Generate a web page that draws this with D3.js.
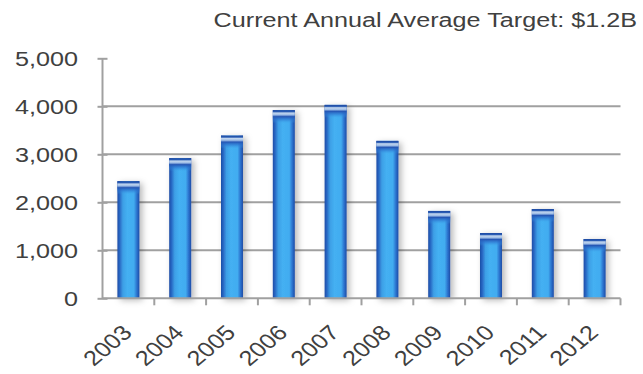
<!DOCTYPE html>
<html>
<head>
<meta charset="utf-8">
<script src="https://cdn.jsdelivr.net/npm/d3@7/dist/d3.min.js"></script>
<style>
  html, body { margin: 0; padding: 0; background: #fff; }
  svg { display: block; }
  text { font-family: "Liberation Sans", Arial, sans-serif; fill: #404040; }
</style>
</head>
<body>
<svg id="chart" width="643" height="374"></svg>
<script>
const years = ["2003","2004","2005","2006","2007","2008","2009","2010","2011","2012"];
const values = [2440, 2920, 3390, 3920, 4030, 3280, 1820, 1360, 1860, 1235];
const yTicks = [0, 1000, 2000, 3000, 4000, 5000];
const gridTicks = [1000, 2000, 3000, 4000];
const title = "Current Annual Average Target: $1.2B";

const svg = d3.select("#chart");
const pLeft = 102.5, pRight = 620.5, pTop = 58.3, pBottom = 298.3;
const sx = 1.2; // horizontal stretch of the original picture
const fontSize = 21;

const x = d3.scaleBand().domain(years).range([pLeft, pRight]).paddingInner(0.575).paddingOuter(0.2875);
const xEdges = d3.scaleBand().domain(years).range([pLeft, pRight]);
const y = d3.scaleLinear().domain([0, 5000]).range([pBottom, pTop]);

const defs = svg.append("defs");
const hg = defs.append("linearGradient").attr("id", "barH").attr("x1", 0).attr("x2", 1).attr("y1", 0).attr("y2", 0);
[[0, "#1d4ca6"], [0.1, "#2766c2"], [0.25, "#3d9fe6"], [0.45, "#44b0f2"], [0.75, "#42acf0"], [0.88, "#2c74cf"], [1, "#1d4ca6"]]
  .forEach(([o, c]) => hg.append("stop").attr("offset", o).attr("stop-color", c));
const vg = defs.append("linearGradient").attr("id", "barCap").attr("x1", 0).attr("x2", 0).attr("y1", 0).attr("y2", 1);
[[0, "#1c47a0", 1], [0.12, "#2a5cb4", 1], [0.22, "#c2d6ee", 1], [0.36, "#9fbde6", 1], [0.5, "#2557b5", 1], [0.75, "#2f78d2", 0.6], [1, "#3a9be4", 0]]
  .forEach(([o, c, op]) => vg.append("stop").attr("offset", o).attr("stop-color", c).attr("stop-opacity", op));
const f = defs.append("filter").attr("id", "shadow").attr("x", "-50%").attr("y", "-20%").attr("width", "200%").attr("height", "140%");
f.append("feDropShadow").attr("dx", 3).attr("dy", 2).attr("stdDeviation", 3).attr("flood-color", "#000").attr("flood-opacity", 0.28);

// gridlines
svg.append("g").selectAll("line").data(gridTicks).join("line")
  .attr("x1", pLeft).attr("x2", pRight)
  .attr("y1", d => y(d)).attr("y2", d => y(d))
  .attr("stroke", "#a0a0a0").attr("stroke-width", 2);

// y axis
const yAxis = svg.append("g").attr("transform", `translate(${pLeft},0)`)
  .call(d3.axisLeft(y).tickValues(yTicks).tickSize(5).tickFormat(d3.format(",")));
yAxis.select(".domain").remove();
yAxis.selectAll(".tick line").attr("stroke", "#a0a0a0").attr("stroke-width", 2).attr("x1", 5);
yAxis.selectAll(".tick text")
  .attr("x", null).attr("dy", null)
  .attr("text-anchor", "end")
  .attr("transform", `translate(-24.5,7.5) scale(${sx},1)`)
  .style("font-size", fontSize + "px")
  .style("font-family", '"Liberation Sans", Arial, sans-serif')
  .attr("fill", "#404040");
svg.append("line").attr("x1", pLeft).attr("x2", pLeft).attr("y1", y(5000)).attr("y2", pBottom)
  .attr("stroke", "#a0a0a0").attr("stroke-width", 2);

// bars
const bars = svg.append("g").selectAll("g").data(years.map((yr, i) => ({ yr, v: values[i] }))).join("g");
bars.append("rect")
  .attr("x", d => x(d.yr)).attr("width", x.bandwidth())
  .attr("y", d => y(d.v)).attr("height", d => pBottom - y(d.v))
  .attr("fill", "url(#barH)").attr("filter", "url(#shadow)");
bars.append("rect")
  .attr("x", d => x(d.yr)).attr("width", x.bandwidth())
  .attr("y", d => y(d.v)).attr("height", 13)
  .attr("fill", "url(#barCap)");

// x axis
const xAxis = svg.append("g").attr("transform", `translate(0,${pBottom})`);
xAxis.append("line").attr("x1", pLeft).attr("x2", pRight).attr("y1", 0).attr("y2", 0)
  .attr("stroke", "#a0a0a0").attr("stroke-width", 2);
const edges = years.map(yr => xEdges(yr)).concat([pRight]);
xAxis.selectAll("line.tk").data(edges.slice(1)).join("line").attr("class", "tk")
  .attr("x1", d => d).attr("x2", d => d).attr("y1", 0).attr("y2", 7)
  .attr("stroke", "#a0a0a0").attr("stroke-width", 2);
svg.append("g").selectAll("text").data(years).join("text")
  .attr("transform", d => `translate(${x(d) + x.bandwidth() / 2 + 5},334) scale(${sx},1) rotate(-45)`)
  .attr("text-anchor", "end")
  .style("font-size", fontSize + "px")
  .text(d => d);

// title
svg.append("text")
  .attr("transform", `translate(637,27.3) scale(${sx},1)`)
  .attr("text-anchor", "end")
  .style("font-size", fontSize + "px")
  .text(title);
</script>
</body>
</html>
